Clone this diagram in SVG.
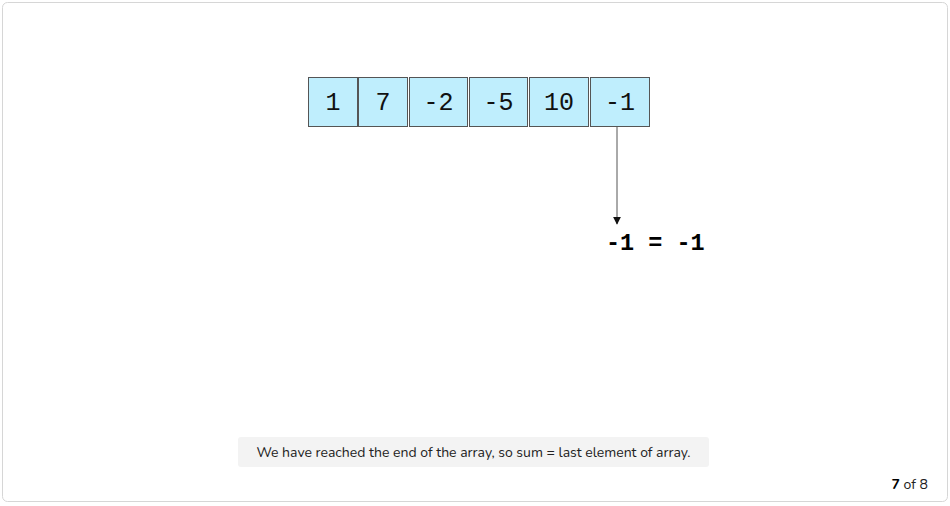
<svg xmlns="http://www.w3.org/2000/svg" width="950" height="506" viewBox="0 0 950 506">
<style>
.cell rect{fill:#bfeefd;stroke:#555;stroke-width:1}
.cell text{font-family:"Liberation Mono","DejaVu Sans Mono",monospace;font-size:25px;fill:#111;text-anchor:middle}
.res{font-family:"Liberation Mono","DejaVu Sans Mono",monospace;font-size:23.5px;font-weight:bold;fill:#000}
.cap{font-family:"Nunito","Lato","Open Sans",sans-serif;font-size:14px;fill:#222}
</style>
<defs>
<marker id="ah" viewBox="0 0 10 10" refX="9" refY="5" markerWidth="8" markerHeight="8" markerUnits="userSpaceOnUse" orient="auto">
<path d="M0,0 L10,5 L0,10 z" fill="#111"/>
</marker>
</defs>
<rect x="2.5" y="2.5" width="945" height="499" rx="5" fill="#fff" stroke="#d6d6d6"/>
<g id="c0" class="cell"><rect x="308.5" y="77.5" width="49" height="49"/><text x="333" y="110">1</text></g>
<g id="c1" class="cell"><rect x="358.5" y="77.5" width="49" height="49"/><text x="383" y="110">7</text></g>
<g id="c2" class="cell"><rect x="409.5" y="77.5" width="58" height="49"/><text x="438.5" y="110">-2</text></g>
<g id="c3" class="cell"><rect x="469.5" y="77.5" width="58" height="49"/><text x="498.5" y="110">-5</text></g>
<g id="c4" class="cell"><rect x="529.5" y="77.5" width="59" height="49"/><text x="559" y="110">10</text></g>
<g id="c5" class="cell"><rect x="590.5" y="77.5" width="59" height="49"/><text x="620" y="110">-1</text></g>
<g id="connectors"><line x1="617" y1="127" x2="617" y2="224" stroke="#555" stroke-width="1" marker-end="url(#ah)"/></g>
<g id="result"><text class="res" x="606" y="250">-1 = -1</text></g>
<g id="caption"><rect x="238" y="437" width="471" height="30" rx="3" fill="#f3f3f3"/><text class="cap" x="473.5" y="457" text-anchor="middle">We have reached the end of the array, so sum = last element of array.</text></g>
<g id="pager"><text class="cap" x="928" y="489" text-anchor="end"><tspan font-weight="bold" fill="#000">7</tspan> of 8</text></g>
</svg>
